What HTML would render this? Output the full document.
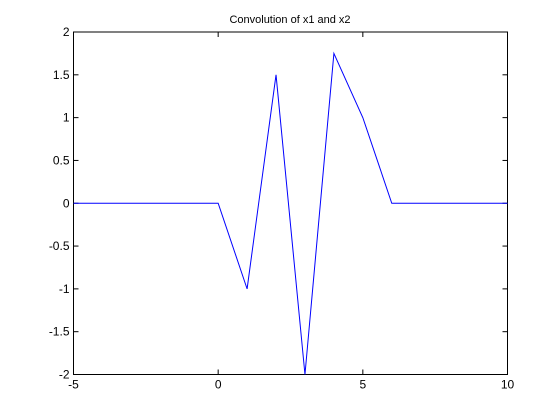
<!DOCTYPE html>
<html><head><meta charset="utf-8"><style>
body{margin:0;background:#fff;}
svg{display:block;font-family:"Liberation Sans",sans-serif;font-size:12px;}
</style></head><body>
<svg id="chart" width="560" height="420" xmlns="http://www.w3.org/2000/svg">
<rect x="0" y="0" width="560" height="420" fill="#fff"/>
<text x="290" y="23" text-anchor="middle" font-size="11">Convolution of x1 and x2</text>
<g id="axes"></g>
<g id="series"></g>
</svg>
<script>
const xValues=[-5,-4,-3,-2,-1,0,1,2,3,4,5,6,7,8,9,10];
const yValues=[0,0,0,0,0,0,-1,1.5,-2,1.75,1,0,0,0,0,0];
const xTicks=[-5,0,5,10];
const yTicks=[-2,-1.5,-1,-0.5,0,0.5,1,1.5,2];
const L=73.5,R=507.5,T=32,B=374.5;
const sx=v=>L+(v-(-5))/15*(R-L);
const sy=v=>B-(v-(-2))/4*(B-T);
const NS="http://www.w3.org/2000/svg";
const axes=document.getElementById('axes');
function mk(tag,attrs,parent){const e=document.createElementNS(NS,tag);for(const k in attrs)e.setAttribute(k,attrs[k]);parent.appendChild(e);return e;}
const box=mk('rect',{x:L,y:T,width:R-L,height:B-T,fill:'none',stroke:'#000','stroke-width':1},axes);


xTicks.forEach(t=>{
  const x=sx(t);
  const l1=mk('line',{x1:x,x2:x,y1:B,y2:B-5,stroke:'#000'},axes);
  
  
  const l2=mk('line',{x1:x,x2:x,y1:T,y2:T+5,stroke:'#000'},axes);
  
  
  const tx=mk('text',{x:x,y:B+14,'text-anchor':'middle'},axes);
  tx.textContent=t;
  
  
});
yTicks.forEach(t=>{
  const y=sy(t);
  const l1=mk('line',{x1:L,x2:L+5,y1:y,y2:y,stroke:'#000'},axes);
  
  
  const l2=mk('line',{x1:R,x2:R-5,y1:y,y2:y,stroke:'#000'},axes);
  
  
  const tx=mk('text',{x:L-4,y:y+4,'text-anchor':'end'},axes);
  tx.textContent=t;
  
  
});
const pts=xValues.map((x,i)=>sx(x)+','+sy(yValues[i])).join(' ');
const line=mk('polyline',{points:pts,fill:'none',stroke:'#0000ff','stroke-width':1},document.getElementById('series'));


</script>
</body></html>
